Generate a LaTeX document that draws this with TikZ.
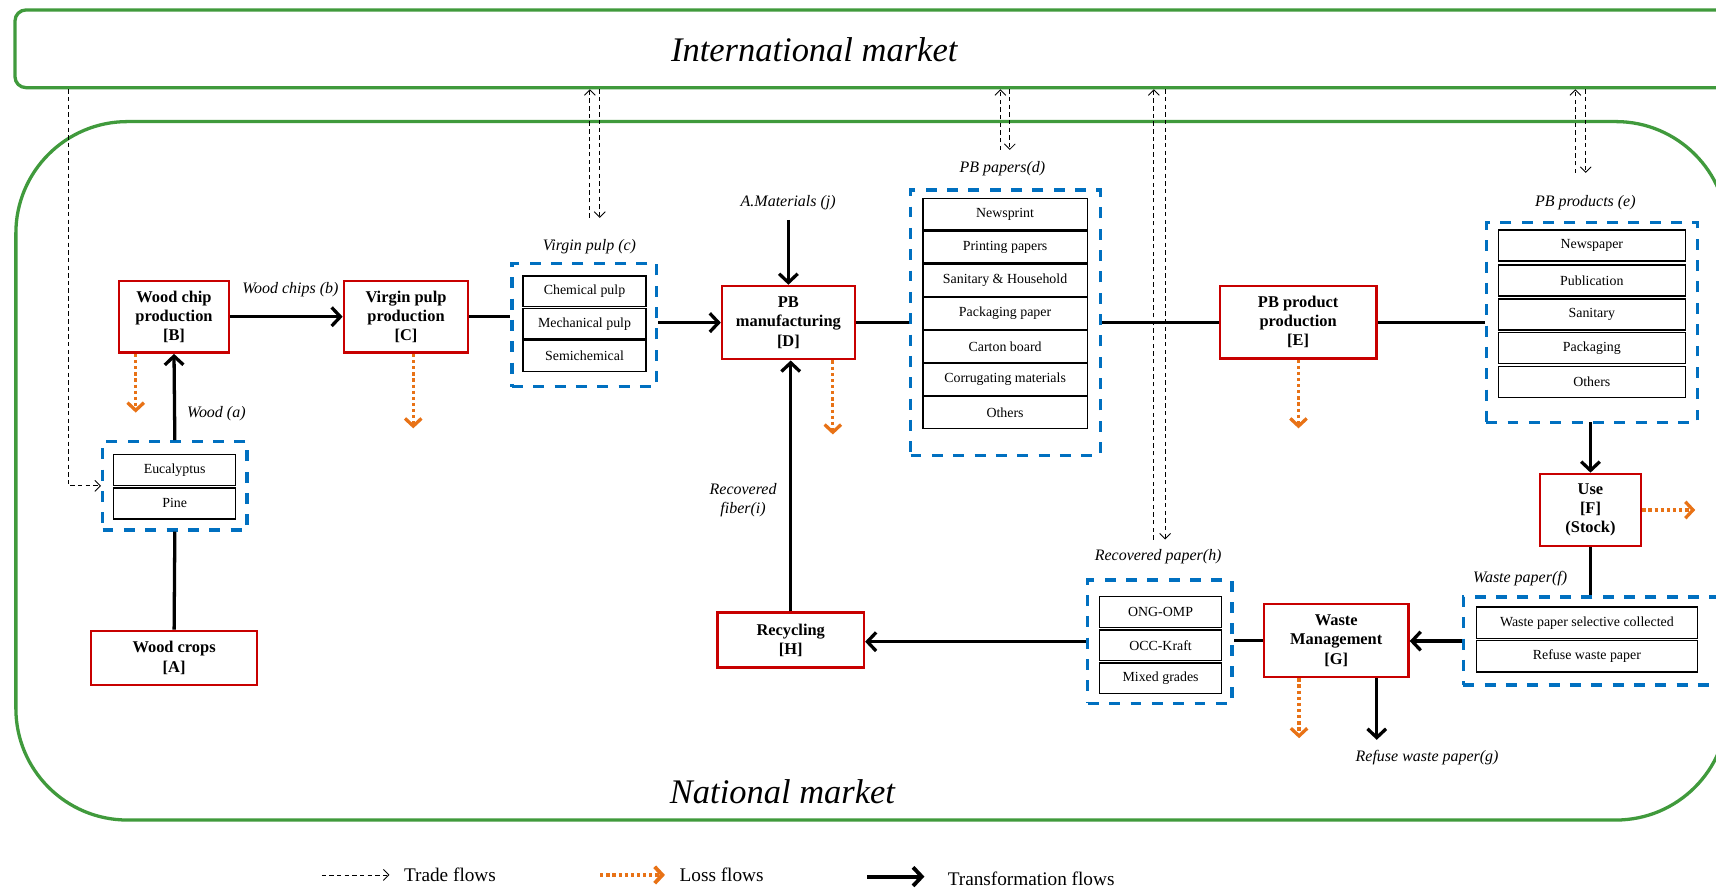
\documentclass[tikz,border=0pt]{standalone}
\usepackage{fontspec}
\setmainfont{Liberation Serif}
\usetikzlibrary{arrows.meta}
\definecolor{mktgreen}{RGB}{64,154,60}
\definecolor{procred}{RGB}{200,0,0}
\definecolor{grpblue}{RGB}{0,112,192}
\definecolor{lossorange}{RGB}{232,114,22}
\begin{document}
\begin{tikzpicture}[x=1pt,y=-1pt,
  market/.style={draw=mktgreen, line width=3pt, inner sep=0pt},
  marketlabel/.style={font=\fontsize{31.5}{36}\selectfont\itshape, inner sep=0pt},
  process/.style={draw=procred, line width=2.2pt, fill=white, align=center, inner sep=0pt,
    font=\fontsize{15}{17.5}\selectfont\bfseries},
  group/.style={draw=grpblue, line width=3pt, dash pattern=on 10pt off 9.5pt, inner sep=0pt},
  item/.style={draw=black, line width=1.2pt, fill=white, inner sep=0pt, font=\fontsize{12.7}{15}\selectfont},
  flowlabel/.style={font=\fontsize{14.6}{17.5}\selectfont\itshape, inner sep=0pt, align=center},
  tflow/.style={line width=3pt, -{Straight Barb[length=8pt,width=17pt]}},
  tlink/.style={line width=3pt},
  loss/.style={draw=lossorange, line width=3pt, dash pattern=on 3pt off 2.6pt,
    -{Straight Barb[length=7pt,width=15pt]}},
  trade/.style={line width=0.8pt, dash pattern=on 4pt off 3pt, -{Straight Barb[length=5pt,width=10pt]}},
  legtext/.style={font=\fontsize{17.6}{20}\selectfont, inner sep=0pt, anchor=west},
]
\useasboundingbox (0,0) rectangle (1568,811);
\fill[white] (0,0) rectangle (1568,811);
\clip (0,0) rectangle (1568,811);

% market areas
\node[market, rounded corners=10pt, minimum width=1587.8, minimum height=71, anchor=north west] (intl) at (12.2,7.6) {};
\node[marketlabel] (intltext) at (744,45) {International market};
\node[market, rounded corners=102pt, minimum width=1564, minimum height=638.2, anchor=north west] (natl) at (13,109.6) {};
\node[marketlabel] (natltext) at (715,723) {National market};

% processes
\node[process, minimum width=151.8, minimum height=49.7] (A) at (159.1,601.2) {Wood crops\\{[A]}};
\node[process, minimum width=101, minimum height=65.7] (B) at (159,289.4) {Wood chip\\production\\{[B]}};
\node[process, minimum width=113.6, minimum height=65.7] (C) at (371,289.4) {Virgin pulp\\production\\{[C]}};
\node[process, minimum width=121.3, minimum height=67] (D) at (720.4,294.8) {PB\\manufacturing\\{[D]}};
\node[process, minimum width=142.9, minimum height=66] (E) at (1186.2,294.4) {PB product\\production\\{[E]}};
\node[process, minimum width=92.5, minimum height=66] (F) at (1453.3,466) {Use\\{[F]}\\(Stock)};
\node[process, minimum width=132, minimum height=66.7] (G) at (1221,585.4) {Waste\\Management\\{[G]}};
\node[process, minimum width=133.8, minimum height=50] (H) at (722.5,584.8) {Recycling\\{[H]}};

% wood (a)
\node[group, minimum width=132.1, minimum height=80.7] (gw) at (159.75,443.95) {};
\node[item, minimum width=111.6, minimum height=28.4] (w1) at (159.6,429.3) {Eucalyptus};
\node[item, minimum width=111.6, minimum height=28.4] (w2) at (159.6,460) {Pine};

% virgin pulp (c)
\node[group, minimum width=132.3, minimum height=112.7] (gc) at (533.9,297) {};
\node[item, minimum width=112.6, minimum height=28] (c1) at (534.1,266.2) {Chemical pulp};
\node[item, minimum width=112.6, minimum height=28] (c2) at (534.1,295.8) {Mechanical pulp};
\node[item, minimum width=112.6, minimum height=28] (c3) at (534.1,325.4) {Semichemical};

% PB papers (d)
\node[group, minimum width=173.5, minimum height=242.4] (gd) at (918.75,294.8) {};
\node[item, minimum width=150.2, minimum height=29] (d1) at (918.4,195.7) {Newsprint};
\node[item, minimum width=150.2, minimum height=29] (d2) at (918.4,225.9) {Printing papers};
\node[item, minimum width=150.2, minimum height=29] (d3) at (918.4,256.2) {Sanitary \& Household};
\node[item, minimum width=150.2, minimum height=29] (d4) at (918.4,286.4) {Packaging paper};
\node[item, minimum width=150.2, minimum height=29] (d5) at (918.4,316.7) {Carton board};
\node[item, minimum width=150.2, minimum height=29] (d6) at (918.4,346.9) {Corrugating materials};
\node[item, minimum width=150.2, minimum height=29] (d7) at (918.4,377.1) {Others};

% PB products (e)
\node[group, minimum width=193.3, minimum height=182.4] (ge) at (1454.65,294.7) {};
\node[item, minimum width=171, minimum height=28.4] (e1) at (1454.5,224.4) {Newspaper};
\node[item, minimum width=171, minimum height=28.4] (e2) at (1454.5,256.3) {Publication};
\node[item, minimum width=171, minimum height=28.4] (e3) at (1454.5,287.4) {Sanitary};
\node[item, minimum width=171, minimum height=28.4] (e4) at (1454.5,318) {Packaging};
\node[item, minimum width=171, minimum height=28.4] (e5) at (1454.5,349) {Others};

% waste paper (f)
\node[group, minimum width=243, minimum height=80.5] (gf) at (1458.5,585.75) {};
\node[item, minimum width=202, minimum height=28.5] (f1) at (1450,569) {Waste paper selective collected};
\node[item, minimum width=202, minimum height=28.5] (f2) at (1450,599.75) {Refuse waste paper};

% recovered paper (h)
\node[group, minimum width=131.8, minimum height=112.7] (gh) at (1059.9,586.35) {};
\node[item, minimum width=111.7, minimum height=28] (h1) at (1060.45,559.2) {ONG-OMP};
\node[item, minimum width=111.7, minimum height=28] (h2) at (1060.45,589.7) {OCC-Kraft};
\node[item, minimum width=111.7, minimum height=28] (h3) at (1060.45,619.8) {Mixed grades};

% flow labels
\node[flowlabel] (la) at (197.7,377.7) {Wood (a)};
\node[flowlabel] (lb) at (265.3,265) {Wood chips (b)};
\node[flowlabel] (lc) at (538.6,225.4) {Virgin pulp (c)};
\node[flowlabel] (lj) at (720.2,184.9) {A.Materials (j)};
\node[flowlabel] (ld) at (916,153.8) {PB papers(d)};
\node[flowlabel] (le) at (1448.6,184.9) {PB products (e)};
\node[flowlabel] (lh) at (1058.3,508.6) {Recovered paper(h)};
\node[flowlabel] (li) at (679,457.3) {Recovered\\fiber(i)};
\node[flowlabel] (lf) at (1389,529) {Waste paper(f)};
\node[flowlabel] (lg) at (1304,692) {Refuse waste paper(g)};

% transformation flows
\draw[tlink] (A.north) -- (gw.south);
\draw[tflow] (gw.north) -- (B.south);
\draw[tflow] (B.east) -- (C.west);
\draw[tlink] (C.east) -- (C.east -| gc.west);
\draw[tflow] (gc.east |- D.west) -- (D.west);
\coordinate (jtop) at (720.4,201);
\draw[tflow] (jtop) -- (D.north);
\draw[tflow] (H.north) -- (H.north |- D.south);
\draw[tlink] (D.east) -- (D.east -| gd.west);
\draw[tlink] (gd.east |- E.west) -- (E.west);
\draw[tlink] (E.east) -- (E.east -| ge.west);
\draw[tflow] (ge.south) -- (ge.south -| F.north) -- (F.north);
\draw[tlink] (F.south) -- (F.south |- gf.north);
\draw[tflow] (gf.west) -- (gf.west -| G.east);
\draw[tlink] (G.west) -- (G.west -| gh.east);
\draw[tflow] (gh.west) -- (gh.west -| H.east);
\coordinate (rg) at (1258,676);
\draw[tflow] (G.south -| rg) -- (rg);

% loss flows
\coordinate (xb) at (124,377);
\coordinate (xc) at (377.6,391.4);
\coordinate (xd) at (761,397);
\coordinate (xe) at (1186.5,391.4);
\coordinate (xf) at (1549,466);
\coordinate (xg) at (1187,674.5);
\draw[loss] (B.south -| xb) -- (xb);
\draw[loss] (C.south -| xc) -- (xc);
\draw[loss] (D.south -| xd) -- (xd);
\draw[loss] (E.south -| xe) -- (xe);
\draw[loss] (F.east) -- (xf);
\draw[loss] (G.south -| xg) -- (xg);

% trade flows
\draw[trade] (intl.south west) ++(50.5,0) |- (gw.west);
\coordinate (tc1) at (539,199);   \coordinate (tc2) at (548,199);
\coordinate (td1) at (914.1,137); \coordinate (td2) at (922.7,137);
\coordinate (th1) at (1054.3,493); \coordinate (th2) at (1064.6,493);
\coordinate (te1) at (1439.5,158); \coordinate (te2) at (1448.9,158);
\foreach \p in {tc,td,th,te}{
  \draw[trade] (\p1) -- (\p1 |- intl.south);
  \draw[trade] (intl.south -| \p2) -- (\p2);
}

% legend
\coordinate (k1a) at (294,799.5);   \coordinate (k1b) at (355.9,799.5);
\coordinate (k2a) at (548.4,799.5); \coordinate (k2b) at (607.6,799.5);
\coordinate (k3a) at (792.3,801);   \coordinate (k3b) at (844.7,801);
\draw[trade] (k1a) -- (k1b);
\draw[loss, line width=3.5pt] (k2a) -- (k2b);
\draw[tflow, line width=3.5pt] (k3a) -- (k3b);
\node[legtext] (k1) at (369,799.5) {Trade flows};
\node[legtext] (k2) at (620.8,799.5) {Loss flows};
\node[legtext] (k3) at (865.8,803) {Transformation flows};
\end{tikzpicture}
\end{document}
